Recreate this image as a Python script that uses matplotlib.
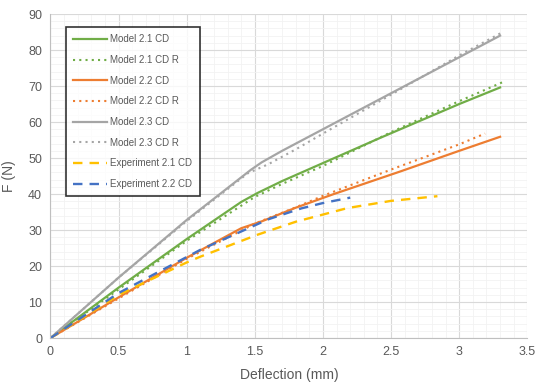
import matplotlib.pyplot as plt
import numpy as np

# Datos (deflexión en mm, fuerza en N)
x_m21 = [0, 0.5, 1.0, 1.4, 1.52, 1.7, 2.0, 2.42, 3.0, 3.3]
y_m21 = [0, 14.0, 27.5, 37.8, 40.3, 43.6, 48.6, 55.6, 65.0, 69.6]

x_m21r = [0, 0.5, 1.0, 1.5, 1.7, 2.0, 2.5, 3.0, 3.32]
y_m21r = [0, 13.5, 27.0, 39.2, 42.8, 47.8, 57.2, 65.8, 71.1]

x_m22 = [0, 0.5, 1.0, 1.4, 1.55, 1.8, 2.08, 2.57, 3.0, 3.3]
y_m22 = [0, 11.3, 22.3, 30.5, 32.4, 36.2, 40.0, 46.3, 52.0, 55.9]

x_m22r = [0, 0.5, 1.0, 1.5, 1.8, 2.0, 2.5, 3.0, 3.19]
y_m22r = [0, 11.0, 22.0, 31.8, 36.3, 39.5, 46.8, 53.8, 56.8]

x_m23 = [0, 0.5, 1.0, 1.47, 1.55, 1.7, 1.85, 2.0, 2.5, 3.0, 3.3]
y_m23 = [0, 16.8, 32.8, 46.7, 48.8, 52.0, 55.0, 58.0, 68.0, 78.0, 84.0]

x_m23r = [0, 0.5, 1.0, 1.45, 1.6, 1.8, 2.0, 2.5, 3.0, 3.32]
y_m23r = [0, 16.8, 32.5, 45.8, 48.3, 52.4, 56.8, 67.6, 78.5, 85.0]

x_e21 = [0, 0.5, 1.0, 1.1, 1.52, 1.8, 2.18, 2.5, 2.84]
y_e21 = [0, 12.0, 21.0, 22.6, 28.7, 32.3, 36.1, 38.1, 39.4]

x_e22 = [0, 0.5, 1.0, 1.1, 1.4, 1.6, 1.84, 2.0, 2.2]
y_e22 = [0, 12.5, 22.5, 24.5, 29.6, 33.0, 36.0, 37.5, 39.0]

plt.rcParams['font.family'] = ['Liberation Sans', 'DejaVu Sans']

fig = plt.figure(figsize=(5.5, 3.91), dpi=100)
ax = fig.add_axes([0.0918, 0.1355, 0.867, 0.8286])

verde = '#70AD47'
naranja = '#ED7D31'
gris = '#A5A5A5'
amarillo = '#FFC000'
azul = '#4472C4'

punteado = (0, (1, 2))
rayado = (0, (4, 3))

ax.plot(x_m21, y_m21, color=verde, lw=1.6, label='Model 2.1 CD')
ax.plot(x_m21r, y_m21r, color=verde, lw=1.5, ls=punteado, label='Model 2.1 CD R')
ax.plot(x_m22, y_m22, color=naranja, lw=1.6, label='Model 2.2 CD')
ax.plot(x_m22r, y_m22r, color=naranja, lw=1.5, ls=punteado, label='Model 2.2 CD R')
ax.plot(x_m23, y_m23, color=gris, lw=1.6, label='Model 2.3 CD')
ax.plot(x_m23r, y_m23r, color=gris, lw=1.5, ls=punteado, label='Model 2.3 CD R')
ax.plot(x_e21, y_e21, color=amarillo, lw=1.7, ls=rayado, label='Experiment 2.1 CD')
ax.plot(x_e22, y_e22, color=azul, lw=1.7, ls=rayado, label='Experiment 2.2 CD')

ax.set_xlim(0, 3.5)
ax.set_ylim(0, 90)
ax.set_xticks(np.arange(0, 3.51, 0.5))
ax.set_xticklabels(['0', '0.5', '1', '1.5', '2', '2.5', '3', '3.5'])
ax.set_yticks(np.arange(0, 91, 10))
ax.set_xticks(np.arange(0, 3.51, 0.1), minor=True)
ax.set_yticks(np.arange(0, 91, 2), minor=True)

ax.grid(which='major', color='#D9D9D9', lw=0.8)
ax.grid(which='minor', color='#F2F2F2', lw=0.6)
ax.set_axisbelow(True)

for lado in ['top', 'right']:
    ax.spines[lado].set_visible(False)
for lado in ['left', 'bottom']:
    ax.spines[lado].set_color('#BFBFBF')
ax.tick_params(which='both', length=0, colors='#595959', labelsize=9, pad=6)

ax.set_xlabel('Deflection (mm)', fontsize=10, color='#595959', labelpad=7)
ax.set_ylabel('F (N)', fontsize=10, color='#595959', labelpad=9)

leg = ax.legend(loc='upper left', bbox_to_anchor=(0.032, 0.96), borderaxespad=0,
                fontsize=7, frameon=True, fancybox=False, handlelength=3.5,
                labelspacing=1.1, borderpad=0.75, handletextpad=0.35)
leg.get_frame().set_edgecolor('black')
leg.get_frame().set_linewidth(1.2)
for t in leg.get_texts():
    t.set_color('#595959')

fig.savefig('out.png', dpi=100)
